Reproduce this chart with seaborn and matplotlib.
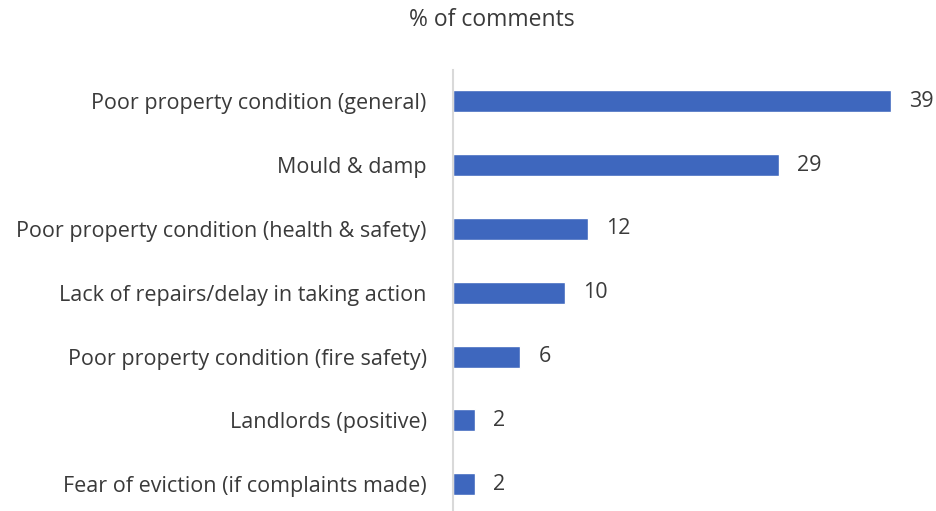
import matplotlib
matplotlib.use('Agg')
import matplotlib.pyplot as plt
import pandas as pd
import seaborn as sns

categories = ['Poor property condition (general)', 'Mould & damp',
              'Poor property condition (health & safety)',
              'Lack of repairs/delay in taking action',
              'Poor property condition (fire safety)',
              'Landlords (positive)',
              'Fear of eviction (if complaints made)']
values = [39, 29, 12, 10, 6, 2, 2]

df = pd.DataFrame({'category': categories, 'pct': values})

sns.set_style('white')
plt.rcParams['font.family'] = ['Open Sans', 'DejaVu Sans']

fig = plt.figure(figsize=(9.36, 5.11), dpi=100)
ax = fig.add_axes([453 / 936, 0, 483 / 936, 441 / 511])

sns.barplot(data=df, x='pct', y='category', color='#3E67BE', width=0.345,
            saturation=1, ax=ax, orient='h')

ax.set_xlim(0, 43)
ax.set_ylim(6.42, -0.49)
ax.set_xlabel('')
ax.set_ylabel('')
ax.set_xticks([])
for s in ['top', 'right', 'bottom']:
    ax.spines[s].set_visible(False)
ax.spines['left'].set_color('#d9d9d9')
ax.spines['left'].set_linewidth(1.5)
ax.tick_params(axis='y', length=0, pad=19, labelsize=15.5, labelcolor='#3a3a3a')

for i, v in enumerate(values):
    ax.text(v + 1.6, i, str(v), va='center', ha='left', fontsize=15.5, color='#3a3a3a')

fig.text(492 / 936, 1 - 20 / 511, '% of comments', ha='center', va='center',
         fontsize=16.5, color='#3a3a3a')

fig.savefig('out.png', dpi=100)
